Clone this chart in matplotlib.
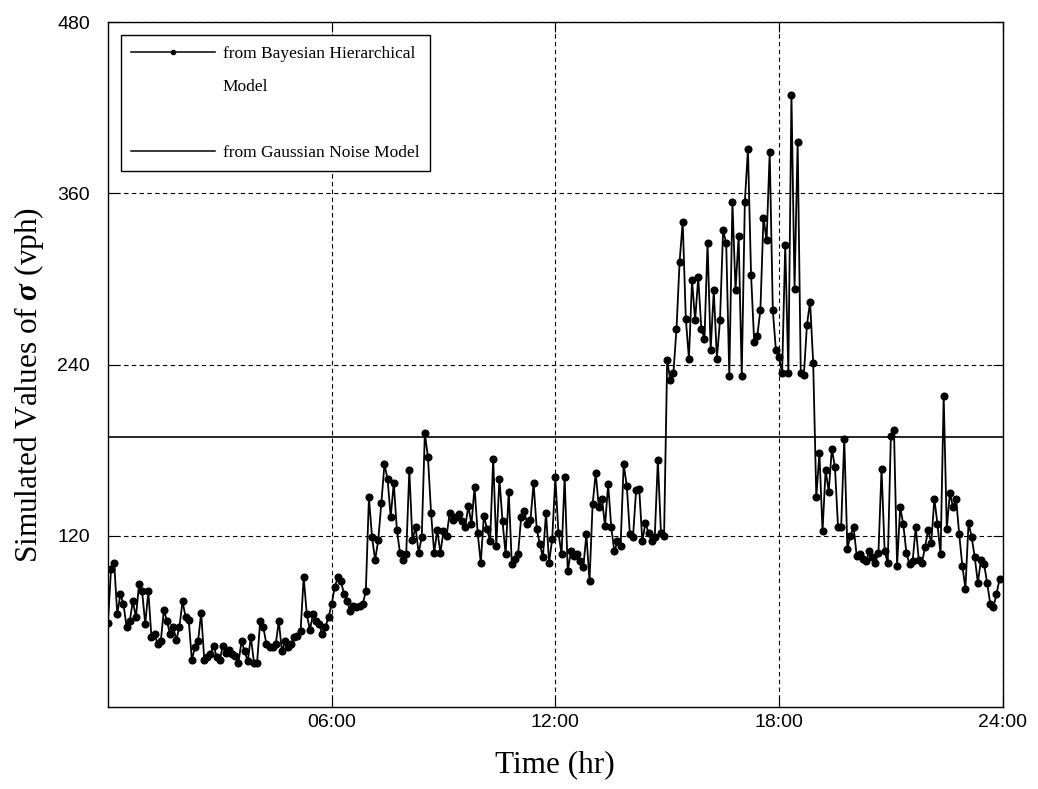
import numpy as np
import matplotlib
matplotlib.use('Agg')
import matplotlib.pyplot as plt
from matplotlib.lines import Line2D

plt.rcParams['mathtext.fontset'] = 'custom'
plt.rcParams['mathtext.rm'] = 'Liberation Serif'
plt.rcParams['mathtext.it'] = 'Liberation Serif:italic'
plt.rcParams['mathtext.bf'] = 'Liberation Serif:bold:italic'

# simulated sigma, one value every 5 minutes over the day (vph)
sigma_bhm = [
    59, 97, 101, 65, 79, 72, 56, 60, 74, 63, 86, 81, 58, 81, 49, 51, 44, 46, 68, 60,
    51, 56, 47, 56, 74, 63, 61, 33, 42, 46, 66, 33, 35, 37, 43, 35, 33, 43, 38, 40,
    37, 36, 31, 46, 39, 32, 49, 31, 31, 60, 56, 44, 42, 42, 44, 60, 39,
    46, 42, 44, 49, 50, 53, 91, 65, 54, 65, 60, 58, 51, 56, 63, 72, 84, 91, 88, 79,
    74, 67, 71, 70, 71, 72, 81,
    147, 119, 103, 117, 143, 170, 160, 133, 157, 124, 108, 103, 107, 166, 117, 126,
    108, 119, 192, 175, 136, 108, 124, 108, 123, 120, 136, 131,
    133, 135, 130, 126, 141, 128, 154, 122, 101, 134, 125, 116, 174, 113, 160, 130,
    107, 151, 100, 104, 107, 133, 137, 128, 131, 157, 125, 114, 105, 136, 101, 118,
    161, 122, 107, 161, 95, 109, 106, 107, 102, 98, 121, 88, 142, 164, 140, 146,
    127, 156, 126, 109, 116, 113, 170, 155, 121, 119, 152, 153, 116, 129, 122, 116,
    119, 173, 122, 120,
    243, 229, 234, 265, 312, 340, 272, 244, 299, 271, 301, 265, 258, 325, 250, 292,
    244, 271, 334, 325, 232, 354, 292, 330, 232, 354, 391, 303, 256, 260, 278, 343,
    327, 389, 278, 250, 245, 234, 324, 234, 429, 293, 396, 234, 233, 268, 284, 241,
    147, 178, 123, 166, 151, 181, 168, 126, 126, 188, 111, 120, 126, 106, 107, 104,
    102, 109, 105, 101, 108, 167, 109, 101, 190, 194, 99, 140, 128, 108, 100, 102,
    126, 103, 101, 112, 124, 115, 146, 128, 107, 218, 125, 150, 140, 146, 121, 99,
    83, 129, 119, 105, 87, 103, 100, 87, 72, 70, 79, 90,
]
sigma_gauss = 189

hours = np.arange(len(sigma_bhm)) * 5 / 60.0
xticks = [6, 12, 18, 24]
xticklabels = ['06:00', '12:00', '18:00', '24:00']
yticks = [120, 240, 360, 480]

fig = plt.figure(figsize=(10.38, 7.89), dpi=100)
ax = fig.add_axes([0.104, 0.104, 0.862, 0.868])

ax.plot(hours, sigma_bhm, color='black', linewidth=1.3, marker='o',
        markersize=4.8, markerfacecolor='black', markeredgecolor='black')
ax.plot([0, 24], [sigma_gauss, sigma_gauss], color='black', linewidth=1.2)

ax.set_xlim(0, 24)
ax.set_ylim(0, 480)
ax.set_xticks(xticks)
ax.set_xticklabels(xticklabels)
ax.set_yticks(yticks)
ax.grid(True, color='black', linestyle=(0, (4, 3)), linewidth=0.8)
ax.tick_params(direction='in', length=7, width=0.8, top=True, right=True,
               labelsize=14)
ax.tick_params(axis='x', pad=5)
ax.tick_params(axis='y', pad=13)
for lab in ax.get_xticklabels() + ax.get_yticklabels():
    lab.set_family('Liberation Sans')
for sp in ax.spines.values():
    sp.set_linewidth(1.0)

ax.set_xlabel('Time (hr)', family='Liberation Serif', fontsize=22.5, labelpad=14)
ax.set_ylabel(r'Simulated Values of $\mathbf{\sigma}$ (vph)',
              family='Liberation Serif', fontsize=22.5)
ax.yaxis.set_label_coords(-0.069, 0.47)

# second row carries the wrapped word, third row is a spacer
handles = [
    Line2D([], [], color='black', linewidth=1.1, marker='o', markersize=3),
    Line2D([], [], linestyle='none'),
    Line2D([], [], linestyle='none'),
    Line2D([], [], color='black', linewidth=1.1),
]
labels = ['from Bayesian Hierarchical', 'Model', '', 'from Gaussian Noise Model']
leg = ax.legend(handles, labels, loc='upper left',
                prop={'family': 'Liberation Serif', 'size': 12.5},
                frameon=True, fancybox=False, edgecolor='black', framealpha=1,
                handlelength=4.8, handletextpad=0.45, labelspacing=0.97,
                borderpad=0.6, borderaxespad=0.75)
leg.get_frame().set_linewidth(1.0)

fig.savefig('out.png', dpi=100)
